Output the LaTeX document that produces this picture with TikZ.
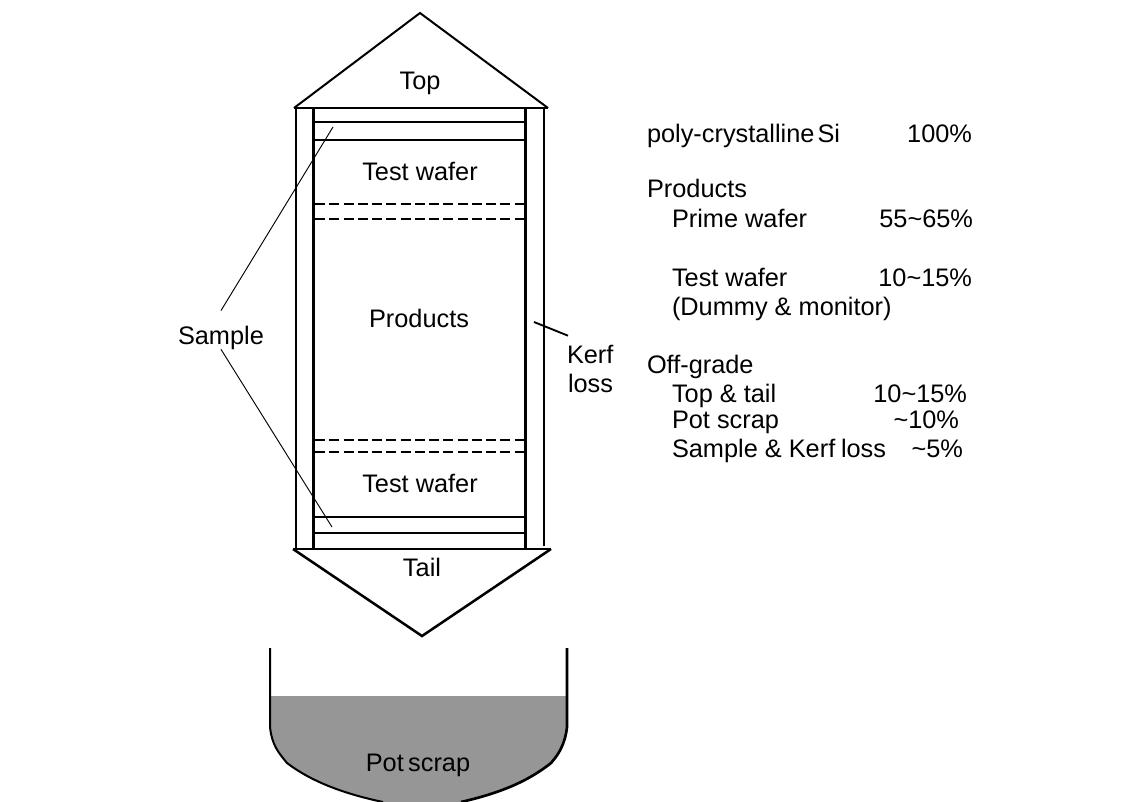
\documentclass[tikz,border=0pt]{standalone}
\usepackage{fontspec}
\setmainfont{Liberation Sans}
\definecolor{potgray}{HTML}{969696}
\tikzset{
  lbl/.style={inner sep=0pt,outer sep=0pt,anchor=base,font=\fontsize{19pt}{22pt}\selectfont},
  lblw/.style={lbl,anchor=base west},
  lble/.style={lbl,anchor=base east},
  outerwall/.style={line width=1.8pt,line cap=butt},
  innerwall/.style={line width=2.2pt,line cap=butt},
  roofline/.style={line width=1.5pt,line join=miter},
  keelline/.style={line width=1.9pt,line join=miter},
  slice/.style={line width=2pt},
  dashline/.style={line width=1.9pt,dash pattern=on 7.5pt off 3.2pt},
  leader/.style={line width=0.7pt},
  kerfline/.style={line width=1.4pt},
  potwall/.style={line width=1.5pt},
  potwallr/.style={line width=2pt},
}
\begin{document}
\begin{tikzpicture}[x=0.75pt,y=-0.75pt]
\useasboundingbox (0,0) rectangle (1145,801);
\clip (0,0) rectangle (1145,801);
% coordinates
\coordinate (topL) at (294,108);
\coordinate (topR) at (548,108);
\coordinate (topA) at (420,13);
\coordinate (botL) at (293,549);
\coordinate (botR) at (551,549);
\coordinate (botA) at (422,636);
% pot
\fill[potgray] (270.5,696) -- (566,696) -- (566,727)
  .. controls (564,745) and (557,755) .. (550,763)
  .. controls (525,783) and (495,794) .. (460,802)
  -- (383,802)
  .. controls (345,794) and (312,782) .. (287,763)
  .. controls (278,752) and (272,745) .. (270.5,727) -- cycle;
\draw[potwall] (270,648) -- (270,727)
  .. controls (272,745) and (278,752) .. (287,763)
  .. controls (312,782) and (345,794) .. (383,802);
\draw[potwallr] (567,648) -- (567,727)
  .. controls (565,745) and (558,755) .. (551,763)
  .. controls (526,783) and (496,794) .. (461,802);
% ingot
\draw[roofline] (topL) -- (topA) -- (topR);
\draw[keelline] (botL) -- (botA) -- (botR);
\draw[outerwall] (296,108) -- (296,549);
\draw[innerwall] (313.5,108) -- (313.5,549);
\draw[innerwall] (525.5,108) -- (525.5,549);
\draw[outerwall] (544,108) -- (544,546);
\draw[slice] (topL) -- (topR);
\draw[slice] (botL) -- (botR);
\draw[slice] (313,122) -- (526,122);
\draw[slice] (313,140) -- (526,140);
\draw[slice] (313,517) -- (526,517);
\draw[slice] (313,533) -- (526,533);
\draw[dashline] (315,204) -- (525,204);
\draw[dashline] (315,219) -- (525,219);
\draw[dashline] (315,440) -- (525,440);
\draw[dashline] (315,452) -- (525,452);
% labels
\node[lbl] (top) at (420,89) {Top};
\node[lbl] (tw1) at (420,180) {Test wafer};
\node[lbl] (prod) at (419,327) {Products};
\node[lbl] (tw2) at (420,492) {Test wafer};
\node[lbl] (tail) at (422,576) {Tail};
\node[lbl] (pot) at (418,771) {Pot\hspace{-2pt} scrap};
\node[lblw] (sample) at (178,344) {Sample};
\node[lblw] (kerf) at (567,363) {Kerf};
\node[lblw] (loss) at (568,392) {loss};
% leaders
\coordinate (s1) at (333,127);
\coordinate (s2) at (332,527);
\coordinate (k1) at (534,322);
\draw[leader] (s1) -- ([yshift=11.25pt]sample.north);
\draw[leader] (s2) -- (sample.south);
\draw[kerfline] (k1) -- ([xshift=0.75pt,yshift=6.75pt]kerf.north west);
% right column
\node[lblw] (t1) at (647,142) {poly-crystalline\hspace{-3pt} Si};
\node[lble] (v1) at (972,142) {100\%};
\node[lblw] (t2) at (647,197) {Products};
\node[lblw] (t3) at (672,227) {Prime wafer};
\node[lble] (v3) at (973,227) {55\char`\~65\%};
\node[lblw] (t4) at (672,286) {Test wafer};
\node[lble] (v4) at (972,286) {10\char`\~15\%};
\node[lblw] (t5) at (672,315) {(Dummy \& monitor)};
\node[lblw] (t6) at (647,373) {Off-grade};
\node[lblw] (t7) at (672,402) {Top \& tail};
\node[lble] (v7) at (967,402) {10\char`\~15\%};
\node[lblw] (t8) at (672,428) {Pot scrap};
\node[lble] (v8) at (959,428) {\char`\~10\%};
\node[lblw] (t9) at (672,457) {Sample \& Kerf\hspace{-1pt} loss};
\node[lble] (v9) at (963,457) {\char`\~5\%};
\end{tikzpicture}
\end{document}
